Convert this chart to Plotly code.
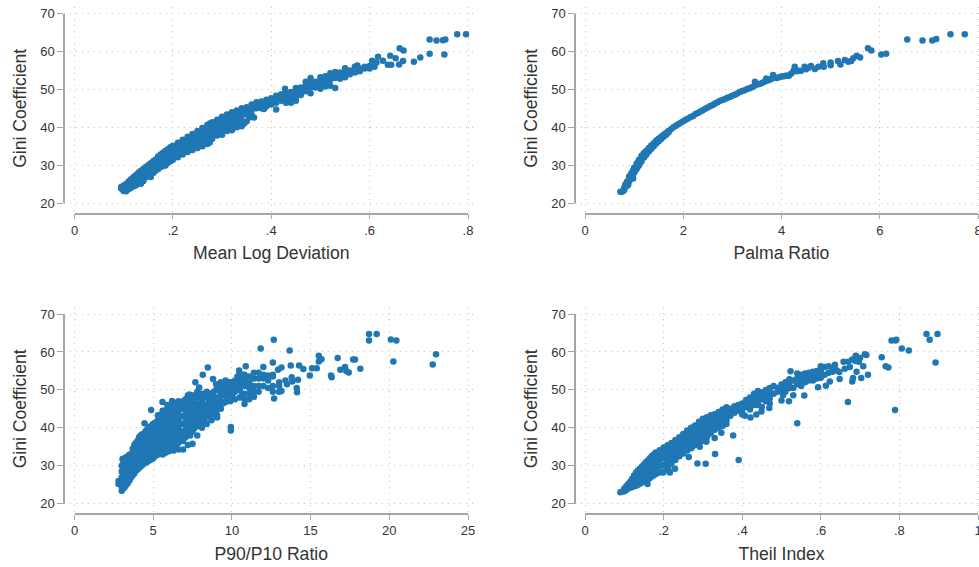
import plotly.graph_objects as go

# ---------- data: (x, Gini) ----------
mld_points = [
(.095,23.8),(.095,24.2),(.10,23.2),(.10,23.8),(.10,24.6),(.105,23.1),(.105,24),(.105,25),(.11,23.6),(.11,24.6),(.11,25.7),
(.115,24),(.115,25),(.115,26.3),(.12,24.4),(.12,25.5),(.12,26.9),(.125,24.7),(.125,26),(.125,27.4),(.13,25.2),(.13,26.5),(.13,28),
(.135,25.1),(.135,27),(.135,28.5),(.14,25.8),(.14,27.4),(.14,29),(.145,26.8),(.145,28),(.145,29.5),(.15,27.2),(.15,28.5),(.15,30),
(.155,26.9),(.155,29),(.155,30.5),(.16,27.9),(.16,29.5),(.16,31),(.165,28.5),(.165,30),(.165,31.5),(.17,29),(.17,30.5),(.17,32.3),
(.175,29.5),(.175,31),(.175,32.8),(.18,29.8),(.18,31.5),(.18,33.3),(.185,29.9),(.185,32),(.185,33.8),(.19,30.6),(.19,32.5),(.19,34.2),
(.195,31),(.195,33),(.195,34.7),(.20,31.4),(.20,33.3),(.20,35.1),(.21,32.1),(.21,34),(.21,35.9),(.22,32.8),(.22,34.8),(.22,36.7),
(.23,33.5),(.23,35.5),(.23,37.5),(.24,34),(.24,36.2),(.24,38.2),(.25,34.5),(.25,37),(.25,39),(.26,35),(.26,37.5),(.26,39.8),
(.27,35.6),(.27,38),(.27,40.6),(.275,36),(.275,38.5),(.275,41),(.28,37),(.28,39),(.28,41.3),(.29,37.8),(.29,40),(.29,42),
(.30,38),(.30,40.5),(.30,42.8),(.31,39),(.31,41.2),(.31,43.4),(.32,39.2),(.32,41.8),(.32,44),(.33,40),(.33,42.2),(.33,44.4),
(.34,40.3),(.34,43),(.34,45),(.345,41),(.345,43.5),(.35,43.6),(.35,45.3),(.36,44.5),(.36,46),(.365,42.6),(.37,45),(.37,46.6),
(.38,45),(.38,46.8),(.385,44.8),(.39,45.5),(.39,47.3),(.40,46),(.40,47.7),(.41,46.5),(.41,48.3),(.41,44.7),(.42,47),(.42,48.7),
(.43,46.5),(.43,48),(.43,49.3),(.428,50.2),(.44,46.5),(.44,47.6),(.44,49.3),(.45,47),(.45,48.8),(.45,50.4),(.46,48.5),(.46,50.5),
(.47,49.5),(.47,51),(.47,52),(.48,49),(.48,50.5),(.48,51.5),(.48,53),(.49,50.5),(.49,52),(.50,50.2),(.50,51.5),(.50,53.2),
(.51,50.8),(.51,52.5),(.51,53.5),(.52,51),(.52,52.5),(.52,54.3),(.53,50.4),(.53,53),(.53,54.6),(.54,53.5),(.54,54.5),(.55,53.2),(.55,54.5),(.55,55.6),
(.56,54),(.56,55),(.57,54.5),(.57,56),(.575,56.3),(.58,54.8),(.58,55.5),(.59,55.5),(.59,56),(.60,55.5),(.60,56.2),(.605,57.6),(.61,56),
(.614,57.1),(.617,58.6),(.627,57.6),(.637,56.5),(.642,58.9),(.644,56.5),(.653,58.2),(.660,56.6),(.661,60.85),(.668,57.5),(.669,60.3),
(.690,57.3),(.703,58.4),(.722,63.2),(.722,59.4),(.736,62.9),(.749,63),(.754,63.2),(.752,59.2),(.778,64.6),(.796,64.6),
# inside the band
(.14,26.6),(.14,28.2),(.15,27.8),(.15,29.3),(.16,28.7),(.16,30.3),(.17,29.8),(.17,31.4),(.18,30.6),(.18,32.4),(.19,31.5),(.19,33.4),
(.20,32.3),(.20,34.2),(.21,33),(.21,35),(.22,33.8),(.22,35.8),(.23,34.5),(.23,36.5),(.24,35.1),(.24,37.2),(.25,35.7),(.25,38),
(.26,36.2),(.26,38.6),(.27,36.8),(.27,39.3),(.28,38),(.28,40.2),(.29,38.9),(.29,41),(.30,39.2),(.30,41.6),(.31,40.1),(.31,42.3),
(.32,40.5),(.32,42.9),(.33,41.1),(.33,43.3),(.34,41.6),(.34,44),(.35,44.5),(.36,45.2),(.37,45.8),(.38,45.9),(.39,46.4),(.40,46.8),
(.41,47.4),(.42,47.8),(.43,47.2),(.44,48.5),(.45,48),(.45,49.6),(.46,49.5),(.47,50.2),(.49,51.2),(.50,52.4),(.51,51.6),(.52,53.4),(.54,52.8),
(.35,41.6),(.355,42.6),(.36,43.2),
]

palma_points = [
(.72,23),(.75,23),(.78,23.2),(.8,24),(.8,23.5),(.85,25.5),(.85,24.5),(.88,24.8),(.9,27),(.9,25.8),(.95,28),(.95,26.6),(.98,26.5),(1.0,29.3),(1.0,28),
(1.05,30.4),(1.05,29),(1.1,31.4),(1.1,30),(1.15,32.5),(1.15,31),(1.2,33.2),(1.2,32),(1.25,33.8),(1.25,32.8),(1.3,34.5),(1.3,33.6),(1.35,35.2),(1.35,34.3),
(1.4,35.8),(1.4,35),(1.45,36.5),(1.45,35.7),(1.5,37),(1.5,36.3),(1.55,37.5),(1.55,36.9),(1.6,38),(1.6,37.5),(1.65,38.5),(1.65,38),(1.7,39),(1.7,38.6),
(1.75,39.5),(1.8,40),(1.85,40.4),(1.9,40.8),(1.95,41.2),(2.0,41.6),(2.05,42),(2.1,42.3),(2.15,42.7),(2.2,43),(2.25,43.5),(2.3,43.8),(2.35,44.2),(2.4,44.5),
(2.45,44.9),(2.5,45.2),(2.55,45.6),(2.6,45.9),(2.65,46.3),(2.7,46.6),(2.75,47),(2.8,47.2),(2.85,47.5),(2.9,47.8),(2.95,48),(3.0,48.3),(3.05,48.6),(3.1,48.9),
(3.15,49.3),(3.2,49.6),(3.25,49.8),(3.3,50.1),(3.35,50.3),(3.4,50.6),(3.46,52),(3.45,51),(3.5,51.3),(3.55,51.4),(3.6,51.7),(3.65,52),(3.69,52.9),(3.7,52.3),
(3.75,52.5),(3.83,53.8),(3.8,52.8),(3.9,53),(3.95,53.2),(4.0,53.4),(4.05,53.5),(4.1,53.7),(4.15,53.6),(4.2,54.2),(4.27,56),(4.25,55),(4.3,54.8),(4.35,54.9),(4.4,54.9),
(4.47,56),(4.5,55.3),(4.55,55.7),(4.6,56.2),(4.68,55.4),(4.75,56),(4.85,56.9),(4.86,56),(5.0,57.1),(5.0,56.4),(5.15,57.5),(5.2,56.6),(5.29,57.8),(5.36,57.3),
(5.42,57.5),(5.46,58.2),(5.53,58.9),(5.6,58.4),(5.76,60.85),(5.83,60.3),(6.03,59.2),(6.13,59.4),(6.56,63.2),(6.87,62.9),(7.07,62.9),(7.15,63.3),(7.44,64.6),(7.73,64.6),
(.82,24.8),(.87,25.8),(.92,26.3),(.97,27.5),(1.02,28.5),(1.07,29.5),(1.12,30.5),(1.17,32),(1.22,32.5),(.93,27.4),(.98,28.6),(1.08,30.8),(1.18,32.6),(1.28,34),
]

p9010_points = [
(2.8,25.2),(2.8,26),(3.0,23.4),(3.0,24.5),(3.0,25.5),(3.0,27),(3.0,28.5),(3.0,30),(3.05,31.8),(3.2,24.5),(3.2,26),(3.2,27.5),(3.2,29),(3.2,30.5),(3.2,32),
(3.4,25.5),(3.4,27),(3.4,28.5),(3.4,30),(3.4,31.5),(3.4,32.5),(3.6,27),(3.6,28.5),(3.6,30),(3.6,31.5),(3.6,33),(3.8,28),(3.8,29.5),(3.8,31),(3.8,32.5),(3.8,34),(3.8,35.5),
(4.0,29),(4.0,30.5),(4.0,32),(4.0,33.5),(4.0,35),(4.0,36.5),(4.2,29.8),(4.2,31),(4.2,32.5),(4.2,34),(4.2,35.5),(4.2,37),(4.2,38),
(4.4,30.5),(4.4,32),(4.4,33.5),(4.4,35),(4.4,36.5),(4.4,38),(4.6,31),(4.6,32.5),(4.6,34),(4.6,35.5),(4.6,37),(4.6,38.5),(4.6,39.5),
(4.8,31.5),(4.8,33),(4.8,34.5),(4.8,36),(4.8,37.5),(4.8,39),(4.8,40.3),(5.0,32),(5.0,33.5),(5.0,35),(5.0,36.5),(5.0,38),(5.0,39.5),(5.0,41),
(5.2,32.8),(5.2,34),(5.2,35.5),(5.2,37),(5.2,38.5),(5.2,40),(5.2,41.5),(5.4,33.3),(5.4,34.5),(5.4,36),(5.4,37.5),(5.4,39),(5.4,40.5),(5.4,42),
(5.6,33),(5.6,34.8),(5.6,36.5),(5.6,38),(5.6,39.5),(5.6,41),(5.6,42.5),(5.6,44.5),(5.8,33.5),(5.8,35),(5.8,37),(5.8,38.5),(5.8,40),(5.8,41.5),(5.8,43),(5.8,44.5),
(6.0,33.8),(6.0,35.5),(6.0,37),(6.0,39),(6.0,41),(6.0,43),(6.0,45),(6.3,34),(6.3,35.5),(6.3,37),(6.3,39),(6.3,41),(6.3,43),(6.3,45),
(6.6,34.3),(6.6,36),(6.6,38),(6.6,40),(6.6,42),(6.6,44),(6.6,46),(6.9,34.3),(6.9,36.5),(6.9,38.5),(6.9,41),(6.9,43),(6.9,45),(6.9,47),
(7.2,35.5),(7.2,38.5),(7.2,40.5),(7.2,42.5),(7.2,44.5),(7.2,46.5),(7.2,48.5),(7.5,35.8),(7.5,39),(7.5,41),(7.5,43),(7.5,45),(7.5,47),(7.5,48.5),
(7.8,38),(7.8,40.5),(7.8,42),(7.8,44),(7.8,46),(7.8,48),(7.8,49.5),(8.1,40),(8.1,41.5),(8.1,43),(8.1,45),(8.1,47),(8.1,49),(8.4,41),(8.4,43),(8.4,44.5),(8.4,46),(8.4,48),(8.4,49.5),
(8.7,42),(8.7,44),(8.7,46),(8.7,47.5),(8.7,49),(9.0,44.5),(9.0,46.5),(9.0,48),(9.0,50),(9.0,51.5),(9.3,45),(9.3,47),(9.3,49),(9.3,50.5),(9.3,52),
(9.6,46.8),(9.6,48.5),(9.6,50),(9.6,51.5),(9.6,52.5),(9.9,47),(9.9,48.5),(9.9,50.5),(9.9,52),(10.2,47.5),(10.2,49.5),(10.2,51),(10.2,52.5),
(10.5,48),(10.5,50),(10.5,51.5),(10.5,53),(10.5,54.2),(10.8,46.3),(10.8,47.5),(10.8,49),(10.8,51),(10.8,52.5),(10.8,54),(11.1,47.5),(11.1,49),(11.1,50.5),(11.1,52),(11.1,53.5),
(11.4,48.2),(11.4,49.5),(11.4,51),(11.4,53),(11.4,54.5),(11.7,49.5),(11.7,51),(11.7,53),(11.7,54.5),(12.0,51),(12.0,53),(12.0,54),(12.3,50.5),(12.3,52.5),(12.3,53.8),
(12.6,49.5),(12.6,51),(12.6,53.5),(12.6,54),(13.0,49.5),(13.0,51),(13.0,52),(12.68,47.7),(13.15,49.7),(13.4,52.5),(13.5,51.5),
(18.71,64.7),(19.2,64.7),(18.71,63),(20.1,63.3),(20.45,63),(22.97,59.4),(22.76,56.7),(20.26,57.5),(12.66,63.2),(11.83,60.9),(13.67,60.4),(15.52,59),(15.52,57.5),(15.69,58.1),
(16.72,58.4),(17.7,58),(17.82,58),(17.19,56),(16.89,55.3),(17.27,55),(17.42,54.6),(18.16,55.6),(16.3,53.8),(16.34,53.3),(14.95,53.8),(15.09,55.7),(15.39,55.7),(14.54,55.5),
(14.27,56.4),(13.74,56.4),(14.12,50.5),(14.14,49.4),(14.2,52.7),(13.8,53.3),(13.84,52.2),(13.15,55.9),(12.93,55.3),(12.6,57.2),(12.0,56),(10.88,56.2),(10.46,55.1),
(8.47,55.9),(8.15,54),(8.8,52.9),(7.68,52),(7.92,50.6),(6.2,47.1),(5.59,46.8),(4.87,44.7),(4.45,41.2),(9.93,40.2),(9.93,39.3),(9.06,43.4),(9.06,42.7),
# inside the cloud
(3.1,24),(3.1,25),(3.1,26.2),(3.1,27.7),(3.1,29.2),(3.1,30.7),(3.1,31.8),(3.3,25),(3.3,26.7),(3.3,28.2),(3.3,29.7),(3.3,31.2),(3.3,32.3),
(3.5,26.2),(3.5,27.7),(3.5,29.2),(3.5,30.7),(3.5,32.2),(3.5,33),(3.7,27.5),(3.7,29),(3.7,30.5),(3.7,32),(3.7,33.5),(3.7,34.5),
(3.9,28.7),(3.9,30.2),(3.9,31.7),(3.9,33.2),(3.9,34.7),(3.9,36),(4.1,29.4),(4.1,30.8),(4.1,32.3),(4.1,33.8),(4.1,35.3),(4.1,36.8),(4.1,37.5),
(4.3,30.2),(4.3,31.7),(4.3,33.2),(4.3,34.7),(4.3,36.2),(4.3,37.7),(4.3,38.3),(4.5,30.8),(4.5,32.3),(4.5,33.8),(4.5,35.3),(4.5,36.8),(4.5,38.3),(4.5,39),
(4.7,31.3),(4.7,32.8),(4.7,34.3),(4.7,35.8),(4.7,37.3),(4.7,38.8),(4.7,40),(4.9,31.8),(4.9,33.3),(4.9,34.8),(4.9,36.3),(4.9,37.8),(4.9,39.3),(4.9,40.6),
(5.1,32.5),(5.1,34),(5.1,35.5),(5.1,37),(5.1,38.5),(5.1,40),(5.1,41.3),(5.3,33),(5.3,34.5),(5.3,36),(5.3,37.5),(5.3,39),(5.3,40.5),(5.3,42),
(5.5,33.2),(5.5,35),(5.5,36.5),(5.5,38),(5.5,39.5),(5.5,41),(5.5,42.5),(5.5,43.5),(5.7,33.4),(5.7,35),(5.7,36.7),(5.7,38.2),(5.7,39.8),(5.7,41.3),(5.7,42.8),(5.7,44.5),
(5.9,34),(5.9,35.5),(5.9,37.2),(5.9,38.7),(5.9,40.3),(5.9,41.8),(5.9,43.3),(5.9,44.8),(6.15,34.7),(6.15,36.3),(6.15,38),(6.15,40),(6.15,42),(6.15,44),(6.15,46),
(6.45,35),(6.45,36.7),(6.45,38.5),(6.45,40.5),(6.45,42.5),(6.45,44.5),(6.45,45.8),(6.75,37),(6.75,39),(6.75,41),(6.75,43),(6.75,45),(6.75,46.5),
(7.05,37.5),(7.05,39.5),(7.05,41.5),(7.05,43.5),(7.05,45.5),(7.05,47.5),(7.35,38),(7.35,40),(7.35,42),(7.35,44),(7.35,46),(7.35,48),
(7.65,40),(7.65,42.5),(7.65,44.5),(7.65,46.5),(7.65,48.5),(7.95,40.5),(7.95,42.5),(7.95,44.5),(7.95,46.5),(7.95,48.5),
(8.25,42),(8.25,44),(8.25,46),(8.25,48),(8.55,43),(8.55,45),(8.55,47),(8.55,49),(8.85,43.5),(8.85,45.5),(8.85,47.5),(8.85,49.5),
(9.15,46),(9.15,48),(9.15,50),(9.15,51),(9.45,46.5),(9.45,48.5),(9.45,50),(9.45,51.5),(9.75,48),(9.75,49.5),(9.75,51),(9.75,52),
(10.05,49),(10.05,50.5),(10.05,52),(10.35,50),(10.35,52),(10.35,53.5),(10.65,49),(10.65,51),(10.65,52.5),(10.65,54),
(5.3,43.3),(5.9,46),(6.4,46.5),(6.6,47),(7.3,48.8),
]

theil_points = [
(.09,23),(.095,23.2),(.10,23.3),(.10,24),(.105,23.6),(.105,24.6),(.11,24),(.11,25.2),(.115,24.2),(.115,25.8),(.12,24.4),(.12,25.6),(.12,26.6),(.125,24.6),(.125,26),(.125,27.4),
(.13,24.7),(.13,26.3),(.13,28.2),(.135,25),(.135,26.8),(.135,28.8),(.14,25.3),(.14,27.2),(.14,29.3),(.145,25.6),(.145,27.6),(.145,29.8),(.15,26),(.15,28),(.15,30.3),
(.155,26.2),(.155,28.5),(.155,30.9),(.16,26.4),(.16,29),(.16,31.4),(.165,26.8),(.165,29.5),(.165,32),(.17,27.2),(.17,30),(.17,32.6),(.175,27.5),(.175,30.5),(.175,33),
(.18,27.8),(.18,31),(.18,33.5),(.19,28.2),(.19,31.5),(.19,34.1),(.20,28.5),(.20,32),(.20,34.8),(.21,29.5),(.21,32.5),(.21,35.4),(.22,30.5),(.22,33.5),(.22,36),
(.23,31.5),(.23,34.2),(.23,36.8),(.24,32.5),(.24,35),(.24,37.5),(.25,33.2),(.25,35.6),(.25,38.4),(.26,34),(.26,36.5),(.26,39.3),(.27,34.6),(.27,37),(.27,40),
(.28,35.5),(.28,38),(.28,40.6),(.29,36),(.29,38.8),(.29,41.6),(.30,36.5),(.30,39.3),(.30,42.4),(.31,37.5),(.31,40),(.31,42.8),(.32,38.5),(.32,41),(.32,43.3),
(.33,39.5),(.33,41.5),(.33,43.6),(.34,40),(.34,42),(.34,44.2),(.35,40.5),(.35,42.5),(.35,44.8),(.36,41),(.36,43),(.36,45.4),(.37,43.2),(.37,44.5),(.38,44),(.38,45.7),
(.39,44.5),(.39,46),(.40,43.5),(.40,45),(.40,46.4),(.41,45.5),(.41,47.3),(.42,44.8),(.42,46.5),(.42,48),(.43,46),(.43,47.3),(.43,49),(.44,46),(.44,47.5),(.44,49.7),
(.45,45.5),(.45,47.5),(.45,49.3),(.46,47),(.46,48.5),(.46,50),(.47,46.5),(.47,48.8),(.47,50.5),(.48,49),(.48,51),(.49,49.5),(.49,50.5),(.50,50),(.50,51.4),
(.51,49.5),(.51,51),(.51,52),(.52,50.5),(.52,52),(.52,52.8),(.53,50.5),(.53,52.5),(.54,51.5),(.54,53),(.54,54.3),(.55,51),(.55,52.5),(.55,54),(.56,52),(.56,54.3),
(.57,52.5),(.57,54.5),(.58,52.5),(.58,53.8),(.58,54.8),(.59,53),(.59,55),(.60,53.2),(.60,55),(.60,56.2),(.61,54),(.61,56),(.62,54.5),(.62,56.2),(.63,54.8),(.63,55.7),
(.658,57.4),(.67,57.4),(.68,58),(.69,58.9),(.70,58.4),(.688,57.6),(.64,55.2),
(.869,64.7),(.897,64.7),(.877,63.2),(.892,57.2),(.78,63),(.792,63.2),(.79,63),(.806,60.9),(.824,60.4),(.789,44.7),(.669,46.8),(.54,41.2),(.755,58.6),(.765,56.2),(.772,55.9),
(.72,54),(.703,53.1),(.682,53.1),(.68,52.2),(.648,52.9),(.647,54.7),(.623,52.2),(.613,51.1),(.593,50.7),(.691,54.8),(.708,56.2),(.712,59.4),(.716,59.2),(.689,59),(.697,57.4),
(.674,56),(.661,55.6),(.636,56.6),(.391,31.5),(.307,30.5),(.286,30.6),(.331,33.1),(.264,32.3),(.229,29.2),(.212,29.2),(.216,28.2),(.199,28.2),(.159,25.2),(.377,38),(.347,38.7),
(.33,37.3),(.309,36.3),(.292,35),(.273,35),(.421,42.7),(.407,43.2),(.436,43.5),(.449,44.3),(.469,45.2),(.5,47.2),(.519,47),(.558,48.5),(.504,48.6),(.53,48.6),(.523,54.9),
# inside the band
(.15,27),(.15,29.2),(.16,27.7),(.16,30.2),(.17,28.5),(.17,31.2),(.18,29.4),(.18,32.2),(.19,29.9),(.19,32.8),(.20,30.2),(.20,33.4),(.21,31),(.21,33.9),(.22,32),(.22,34.7),
(.23,32.8),(.23,35.5),(.24,33.7),(.24,36.2),(.25,34.4),(.25,37),(.26,35.2),(.26,37.9),(.27,35.8),(.27,38.5),(.28,36.7),(.28,39.3),(.29,37.4),(.29,40.2),(.30,37.9),(.30,40.8),
(.31,38.7),(.31,41.4),(.32,39.7),(.32,42.1),(.33,40.5),(.33,42.5),(.34,41),(.34,43.1),(.35,41.5),(.35,43.6),(.36,42),(.36,44.2),(.37,44),(.37,45),(.38,44.8),(.38,45.2),
(.40,44.2),(.40,45.7),(.41,46.4),(.42,45.6),(.42,47.2),(.43,46.6),(.43,48.2),(.44,46.8),(.44,48.6),(.45,48.3),(.45,48.7),(.46,47.7),(.46,49.2),(.47,47.7),(.47,49.6),
(.50,50.7),(.52,51.2),(.54,52.2),(.56,53.2),(.57,53.5),(.59,54),(.60,54.1),
]

gini_ticks = [20, 30, 40, 50, 60, 70]
mld_ticks, mld_labels = [0, .2, .4, .6, .8], ["0", ".2", ".4", ".6", ".8"]
palma_ticks, palma_labels = [0, 2, 4, 6, 8], ["0", "2", "4", "6", "8"]
p9010_ticks, p9010_labels = [0, 5, 10, 15, 20, 25], ["0", "5", "10", "15", "20", "25"]
theil_ticks, theil_labels = [0, .2, .4, .6, .8, 1], ["0", ".2", ".4", ".6", ".8", "1"]

# ---------- layout ----------
W, H = 1000, 567   # the window (979 wide) crops the right edge, as in the reference
COLOR = "#1f77b4"
AXIS = "#a6a6a6"
TEXT = "#333333"
FONT = "Liberation Sans"

panels = [
    (mld_points, mld_ticks, mld_labels, "Mean Log Deviation", 74.5, 468, 13.7, 203, 64, 213.5, 7),
    (palma_points, palma_ticks, palma_labels, "Palma Ratio", 585, 978, 13.7, 203, 575, 213.5, 7),
    (p9010_points, p9010_ticks, p9010_labels, "P90/P10 Ratio", 74.5, 468, 314, 503.7, 64, 514, 307),
    (theil_points, theil_ticks, theil_labels, "Theil Index", 585, 978, 314, 503.7, 575, 514, 307),
]

fig = go.Figure()
layout = {}
for i, (pts, ticks, labels, title, x0, x1, ytop, ybot, yaxis_px, xaxis_px, gtop) in enumerate(panels):
    g = "" if i == 0 else str(i + 1)
    d = str(i + 5)
    xmax = ticks[-1]
    gx0, gx1 = yaxis_px, x1 + 10
    sx = xmax / (x1 - x0)
    sy = 50 / (ybot - ytop)
    layout["xaxis" + g] = dict(domain=[gx0 / W, gx1 / W], range=[(gx0 - x0) * sx, (gx1 - x0) * sx],
                               tickvals=ticks, showticklabels=False, ticks="", showgrid=True, zeroline=False,
                               showline=False, gridcolor="#c4c4c4", griddash="1px,5px", gridwidth=1,
                               anchor="y" + g)
    layout["yaxis" + g] = dict(domain=[1 - xaxis_px / H, 1 - gtop / H],
                               range=[20 - (xaxis_px - ybot) * sy, 70 + (ytop - gtop) * sy],
                               tickvals=gini_ticks, showticklabels=False, ticks="", showgrid=True, zeroline=False,
                               showline=False, gridcolor="#c4c4c4", griddash="1px,5px", gridwidth=1,
                               anchor="x" + g)
    fig.add_trace(go.Scatter(x=[None], y=[None], xaxis="x" + g, yaxis="y" + g, mode="markers",
                             showlegend=False, hoverinfo="skip"))
    layout["xaxis" + d] = dict(domain=[x0 / W, x1 / W], range=[0, xmax], tickvals=ticks, ticktext=labels,
                               ticks="outside", ticklen=5, tickcolor=AXIS, tickwidth=1, showline=True, linecolor=AXIS,
                               linewidth=1.5, showgrid=False, zeroline=False, anchor="free",
                               position=1 - xaxis_px / H, automargin=False,
                               tickfont=dict(family=FONT, size=13, color=TEXT),
                               title=dict(text=title, standoff=9, font=dict(family=FONT, size=17.6, color=TEXT)))
    layout["yaxis" + d] = dict(domain=[1 - ybot / H, 1 - ytop / H], range=[20, 70], tickvals=gini_ticks,
                               ticks="outside", ticklen=6, tickcolor=AXIS, tickwidth=1, showline=True, linecolor=AXIS,
                               linewidth=1.5, showgrid=False, zeroline=False, anchor="free",
                               position=yaxis_px / W, automargin=False,
                               tickfont=dict(family=FONT, size=13, color=TEXT),
                               title=dict(text="Gini Coefficient", standoff=8, font=dict(family=FONT, size=17.6, color=TEXT)))
    fig.add_trace(go.Scatter(x=[p[0] for p in pts], y=[p[1] for p in pts], xaxis="x" + d, yaxis="y" + d,
                             mode="markers", marker=dict(color=COLOR, size=6.5, line=dict(width=0)),
                             cliponaxis=False, showlegend=False))

fig.update_layout(width=W, height=H, margin=dict(l=0, r=0, t=0, b=0), paper_bgcolor="white",
                  plot_bgcolor="rgba(0,0,0,0)", font=dict(family=FONT), **layout)
fig.write_html("out.html", config=dict(displayModeBar=False),
               post_script="document.body.style.margin='0';document.body.style.overflow='hidden';")
